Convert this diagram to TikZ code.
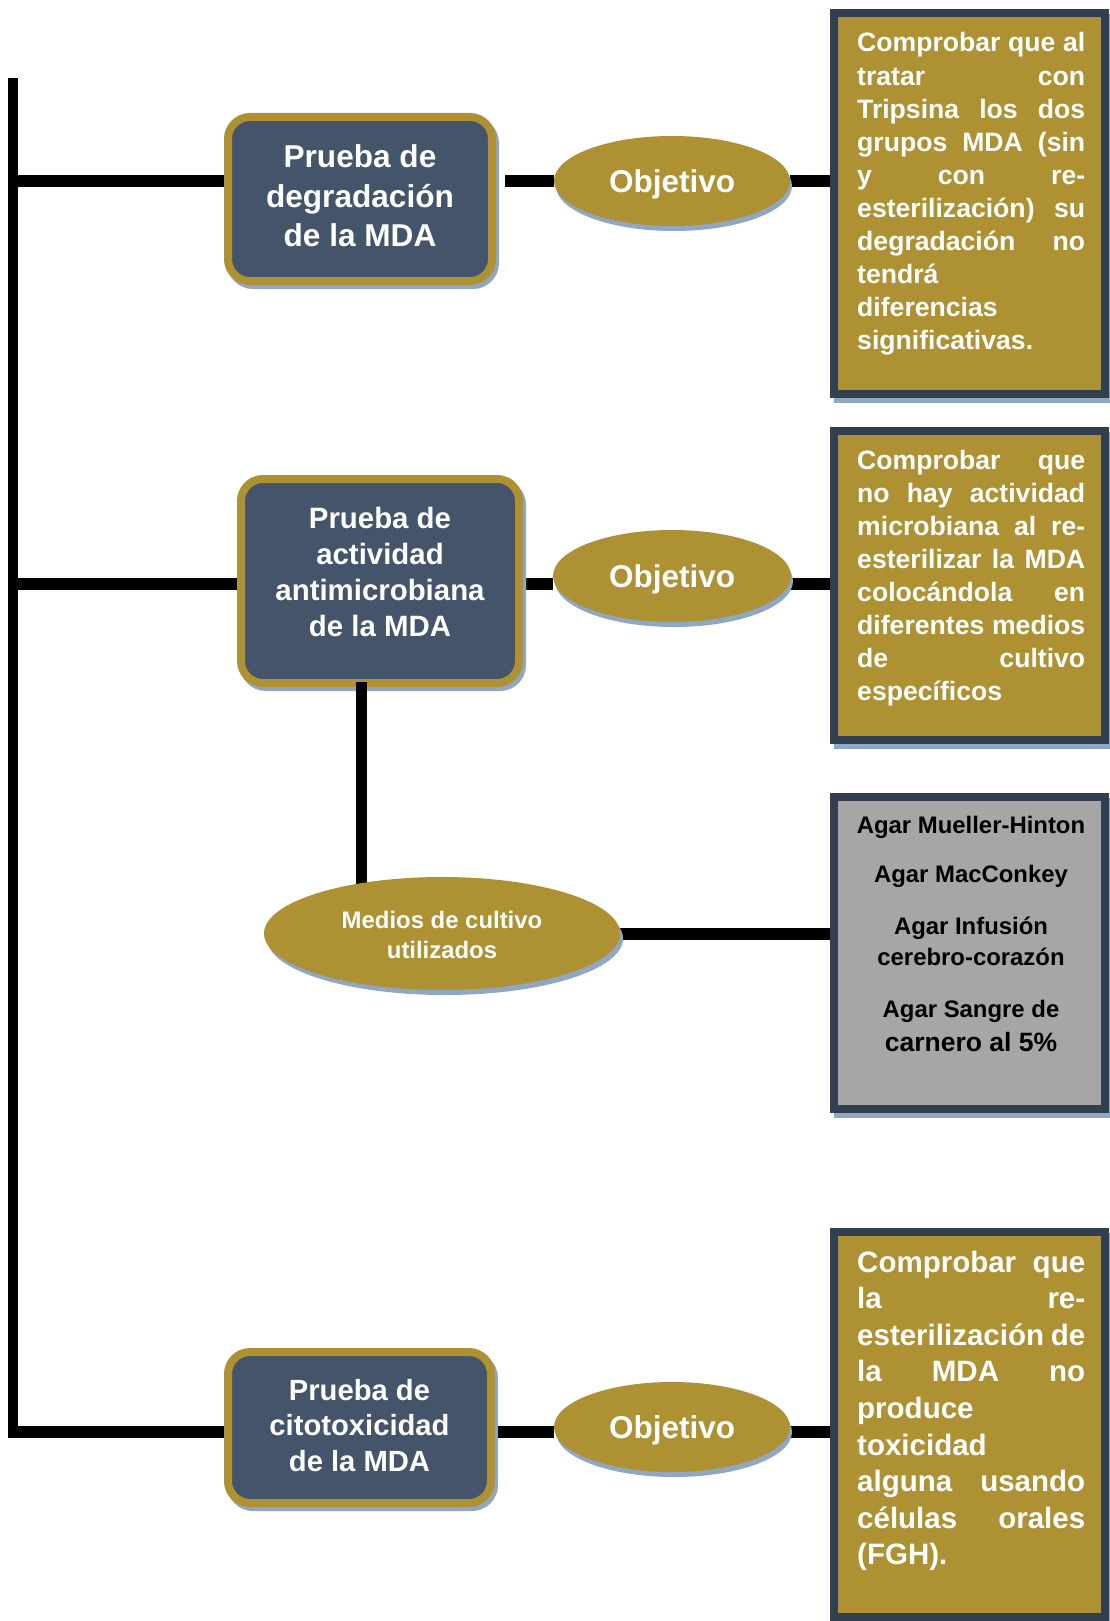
\documentclass[tikz,border=0pt]{standalone}
\usepackage{fontspec}
\setmainfont{Liberation Sans}
\usetikzlibrary{shapes.geometric,shadows}
\definecolor{gold}{RGB}{173,145,51}
\definecolor{navy}{RGB}{68,84,106}
\definecolor{slate}{RGB}{50,63,79}
\definecolor{grayfill}{RGB}{166,166,166}
\definecolor{shade}{RGB}{143,166,196}
\pgfdeclarelayer{bg}
\pgfsetlayers{bg,main}
\newcommand\JLine[1]{\makebox[228pt][s]{#1}}
\begin{document}
\begin{tikzpicture}[x=1pt,y=-1pt,
  roundbox/.style={rectangle, rounded corners=22pt, fill=navy, draw=gold, line width=8pt, inner sep=0pt,
    general shadow={shadow xshift=3pt, shadow yshift=-4pt, fill=shade, draw=shade, line width=8pt}},
  goal/.style={ellipse, fill=gold, inner sep=0pt, text=white, text depth=0pt, font=\bfseries\fontsize{31.5}{38}\selectfont,
    general shadow={shadow xshift=2pt, shadow yshift=-5pt, fill=shade}},
  infobox/.style={rectangle, fill=gold, draw=slate, line width=8pt, inner sep=0pt,
    general shadow={shadow xshift=4pt, shadow yshift=-5pt, fill=shade, draw=shade, line width=8pt}},
  conn/.style={line width=12pt, draw=black},
  txt/.style={inner sep=0pt, text=white, anchor=base},
  gtxt/.style={inner sep=0pt, text=black, anchor=base, font=\bfseries\fontsize{23.9}{30}\selectfont},
]
\useasboundingbox (0,0) rectangle (1109,1621);

% test boxes
\node[roundbox, minimum width=264pt, minimum height=164pt] (b1) at (360,199) {};
\node[roundbox, minimum width=278pt, minimum height=204pt] (b2) at (380,581) {};
\node[roundbox, minimum width=263pt, minimum height=151pt] (b4) at (359.5,1427.5) {};

\node[txt, font=\bfseries\fontsize{31.6}{39.3}\selectfont] (b1t) at (360,168)
  {\parbox[t]{260pt}{\centering Prueba de\\degradación\\de la MDA}};
\node[txt, font=\bfseries\fontsize{29.4}{36}\selectfont] (b2t) at (380,528)
  {\parbox[t]{270pt}{\centering Prueba de\\actividad\\antimicrobiana\\de la MDA}};
\node[txt, font=\bfseries\fontsize{29.2}{35.5}\selectfont] (b4t) at (359.5,1400)
  {\parbox[t]{260pt}{\centering Prueba de\\citotoxicidad\\de la MDA}};

% objective ellipses
\node[goal, minimum width=236pt, minimum height=90pt] (o1) at (672,181) {Objetivo};
\node[goal, minimum width=238pt, minimum height=92pt] (o2) at (672,576) {Objetivo};
\node[goal, minimum width=236pt, minimum height=90pt] (o4) at (672,1427) {Objetivo};

% vertical link from the second test box (drawn over the box, under the ellipse)
\coordinate (vEnd) at (361,884);
\draw[line width=11pt] (b2.south -| vEnd) ++(0,-5) -- (vEnd);

\node[ellipse, fill=gold, inner sep=0pt, minimum width=356pt, minimum height=113pt,
  general shadow={shadow xshift=3pt, shadow yshift=-5pt, fill=shade}] (m) at (442,933.5) {};
\node[txt, font=\bfseries\fontsize{23.9}{30}\selectfont] (mt) at (442,928)
  {\parbox[t]{300pt}{\centering Medios de cultivo\\utilizados}};

% right boxes
\node[infobox, minimum width=271pt, minimum height=381pt] (i1) at (969.5,203.5) {};
\node[infobox, minimum width=271pt, minimum height=309pt] (i2) at (969.5,585.5) {};
\node[infobox, fill=grayfill, minimum width=271pt, minimum height=312pt] (i3) at (969.5,953) {};
\node[infobox, minimum width=271pt, minimum height=385pt] (i4) at (969.5,1424.5) {};

\node[txt, anchor=base west, font=\bfseries\fontsize{26.6}{33.1}\selectfont] (i1t) at (857,52)
  {\parbox[t]{228pt}{\JLine{Comprobar que al}\\\JLine{tratar con}\\\JLine{Tripsina los dos}\\%
   \JLine{grupos MDA (sin}\\\JLine{y con re-}\\\JLine{esterilización) su}\\\JLine{degradación no}\\%
   tendrá\\diferencias\\significativas.}};
\node[txt, anchor=base west, font=\bfseries\fontsize{26.6}{33}\selectfont] (i2t) at (857,469)
  {\parbox[t]{228pt}{\JLine{Comprobar que}\\\JLine{no hay actividad}\\\JLine{microbiana al re-}\\%
   \JLine{esterilizar la MDA}\\\JLine{colocándola en}\\\JLine{diferentes medios}\\\JLine{de cultivo}\\%
   específicos}};
\node[txt, anchor=base west, font=\bfseries\fontsize{29.5}{36.6}\selectfont] (i4t) at (857,1272)
  {\parbox[t]{228pt}{\JLine{Comprobar que}\\\JLine{la re-}\\\JLine{esterilización de}\\%
   \JLine{la MDA no}\\produce\\toxicidad\\\JLine{alguna usando}\\\JLine{células orales}\\(FGH).}};

\node[gtxt] (g1) at (971,833) {Agar Mueller-Hinton};
\node[gtxt] (g2) at (971,882) {Agar MacConkey};
\node[gtxt] (g3) at (971,934) {Agar Infusión};
\node[gtxt] (g4) at (971,965) {cerebro-corazón};
\node[gtxt] (g5) at (971,1017) {Agar Sangre de};
\node[gtxt, font=\bfseries\fontsize{26.5}{32}\selectfont] (g6) at (971,1051) {carnero al 5\%};

% connectors
\coordinate (sTop) at (13,78);
\coordinate (sBot) at (13,1438);
\coordinate (r1) at (13,181);
\coordinate (r2) at (13,584);
\coordinate (r4) at (13,1432);
\begin{pgfonlayer}{bg}
\draw[line width=10pt] (sTop) -- (sBot);
\draw[conn] (r1) -- (r1 -| b1.west);
\draw[conn, shorten <=9pt] (r1 -| b1.east) -- (r1 -| o1.west);
\draw[conn] (r1 -| o1.east) -- (r1 -| i1.west);
\draw[conn] (r2) -- (r2 -| b2.west);
\draw[conn] (r2 -| b2.east) -- (r2 -| o2.west);
\draw[conn] (r2 -| o2.east) -- (r2 -| i2.west);
\draw[conn] (m.east) -- (m.east -| i3.west);
\draw[conn] (r4) -- (r4 -| b4.west);
\draw[conn] (r4 -| b4.east) -- (r4 -| o4.west);
\draw[conn] (r4 -| o4.east) -- (r4 -| i4.west);
\end{pgfonlayer}
\end{tikzpicture}
\end{document}
